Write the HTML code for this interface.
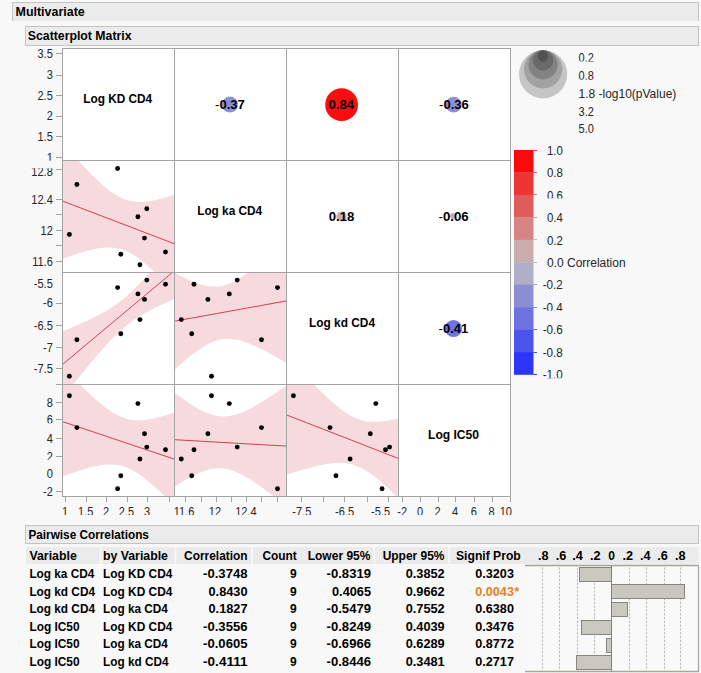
<!DOCTYPE html><html><head><meta charset="utf-8"><style>html,body{margin:0;padding:0;background:#f8f8f8;}svg{display:block;font-family:"Liberation Sans",sans-serif;}</style></head><body>
<svg width="701" height="673" viewBox="0 0 701 673">
<rect x="0" y="0" width="701" height="673" fill="#f8f8f8"/>
<rect x="12.5" y="2.5" width="686" height="18.5" fill="#ebebeb"/>
<polyline points="12.5,21 12.5,2.5 698.5,2.5 698.5,21" fill="none" stroke="#c4c4c4" stroke-width="1"/>
<text x="15.50" y="15.70" font-size="12" font-weight="bold" text-anchor="start" fill="#000000" textLength="69.3" lengthAdjust="spacingAndGlyphs">Multivariate</text>
<rect x="25.5" y="26.5" width="673.0" height="19.0" fill="#ebebeb" stroke="#c4c4c4" stroke-width="1"/>
<text x="27.80" y="40.20" font-size="12" font-weight="bold" text-anchor="start" fill="#000000" textLength="103.7" lengthAdjust="spacingAndGlyphs">Scatterplot Matrix</text>
<rect x="25.5" y="525.5" width="673.0" height="18.0" fill="#ebebeb" stroke="#c4c4c4" stroke-width="1"/>
<text x="28.40" y="538.70" font-size="12" font-weight="bold" text-anchor="start" fill="#000000" textLength="120.5" lengthAdjust="spacingAndGlyphs">Pairwise Correlations</text>
<rect x="62.5" y="48.5" width="448.0" height="448.0" fill="#ffffff"/>
<clipPath id="c01"><rect x="62.5" y="160.5" width="112.0" height="112.0"/></clipPath>
<g clip-path="url(#c01)">
<polygon points="62.5,143.2 64.4,145.3 66.3,147.5 68.2,149.6 70.1,151.7 72.0,153.8 73.9,155.9 75.8,158.0 77.7,160.1 79.6,162.1 81.5,164.1 83.4,166.2 85.3,168.2 87.2,170.1 89.1,172.1 91.0,174.0 92.9,175.9 94.8,177.7 96.7,179.5 98.6,181.3 100.5,183.0 102.4,184.7 104.3,186.4 106.2,187.9 108.1,189.4 110.0,190.9 111.9,192.3 113.8,193.5 115.7,194.8 117.6,195.9 119.4,196.9 121.3,197.8 123.2,198.7 125.1,199.4 127.0,200.0 128.9,200.6 130.8,201.0 132.7,201.4 134.6,201.6 136.5,201.8 138.4,201.9 140.3,201.9 142.2,201.9 144.1,201.7 146.0,201.6 147.9,201.4 149.8,201.1 151.7,200.8 153.6,200.4 155.5,200.0 157.4,199.6 159.3,199.1 161.2,198.6 163.1,198.1 165.0,197.6 166.9,197.0 168.8,196.4 170.7,195.8 172.6,195.2 174.5,194.6 174.5,293.1 172.6,291.0 170.7,288.9 168.8,286.9 166.9,284.8 165.0,282.8 163.1,280.8 161.2,278.9 159.3,276.9 157.4,275.0 155.5,273.1 153.6,271.3 151.7,269.5 149.8,267.7 147.9,266.0 146.0,264.3 144.1,262.7 142.2,261.1 140.3,259.6 138.4,258.2 136.5,256.9 134.6,255.6 132.7,254.4 130.8,253.3 128.9,252.3 127.0,251.4 125.1,250.6 123.2,249.8 121.3,249.2 119.4,248.7 117.6,248.3 115.7,247.9 113.8,247.7 111.9,247.5 110.0,247.5 108.1,247.5 106.2,247.5 104.3,247.6 102.4,247.8 100.5,248.0 98.6,248.3 96.7,248.7 94.8,249.0 92.9,249.4 91.0,249.9 89.1,250.3 87.2,250.8 85.3,251.3 83.4,251.9 81.5,252.4 79.6,253.0 77.7,253.6 75.8,254.2 73.9,254.9 72.0,255.5 70.1,256.2 68.2,256.8 66.3,257.5 64.4,258.2 62.5,258.9" fill="#f6dade"/>
<line x1="62.5" y1="201.0" x2="174.5" y2="243.8" stroke="#d3404f" stroke-width="1"/>
<circle cx="117.6" cy="168.5" r="2.45" fill="#000"/>
<circle cx="76.9" cy="184.5" r="2.45" fill="#000"/>
<circle cx="146.8" cy="208.8" r="2.45" fill="#000"/>
<circle cx="137.9" cy="216.7" r="2.45" fill="#000"/>
<circle cx="69.4" cy="234.5" r="2.45" fill="#000"/>
<circle cx="144.5" cy="238.1" r="2.45" fill="#000"/>
<circle cx="120.8" cy="254.3" r="2.45" fill="#000"/>
<circle cx="165.5" cy="252.0" r="2.45" fill="#000"/>
<circle cx="139.9" cy="264.7" r="2.45" fill="#000"/>
</g>
<clipPath id="c02"><rect x="62.5" y="272.5" width="112.0" height="112.0"/></clipPath>
<g clip-path="url(#c02)">
<polygon points="62.5,331.3 64.4,330.5 66.3,329.7 68.2,329.0 70.1,328.2 72.0,327.4 73.9,326.6 75.8,325.8 77.7,324.9 79.6,324.1 81.5,323.3 83.4,322.4 85.3,321.6 87.2,320.7 89.1,319.8 91.0,318.9 92.9,318.0 94.8,317.0 96.7,316.1 98.6,315.1 100.5,314.1 102.4,313.0 104.3,312.0 106.2,310.9 108.1,309.7 110.0,308.5 111.9,307.3 113.8,306.1 115.7,304.7 117.6,303.4 119.4,302.0 121.3,300.5 123.2,299.0 125.1,297.4 127.0,295.7 128.9,294.0 130.8,292.3 132.7,290.5 134.6,288.6 136.5,286.7 138.4,284.8 140.3,282.8 142.2,280.7 144.1,278.7 146.0,276.6 147.9,274.4 149.8,272.3 151.7,270.1 153.6,267.8 155.5,265.6 157.4,263.4 159.3,261.1 161.2,258.8 163.1,256.5 165.0,254.2 166.9,251.9 168.8,249.5 170.7,247.2 172.6,244.8 174.5,242.4 174.5,299.0 172.6,299.8 170.7,300.7 168.8,301.5 166.9,302.3 165.0,303.2 163.1,304.0 161.2,304.9 159.3,305.8 157.4,306.7 155.5,307.6 153.6,308.6 151.7,309.6 149.8,310.5 147.9,311.6 146.0,312.6 144.1,313.7 142.2,314.8 140.3,315.9 138.4,317.1 136.5,318.4 134.6,319.6 132.7,321.0 130.8,322.3 128.9,323.8 127.0,325.2 125.1,326.8 123.2,328.4 121.3,330.0 119.4,331.7 117.6,333.5 115.7,335.3 113.8,337.2 111.9,339.1 110.0,341.0 108.1,343.0 106.2,345.1 104.3,347.2 102.4,349.3 100.5,351.4 98.6,353.6 96.7,355.8 94.8,358.0 92.9,360.2 91.0,362.5 89.1,364.8 87.2,367.1 85.3,369.4 83.4,371.7 81.5,374.0 79.6,376.4 77.7,378.7 75.8,381.1 73.9,383.4 72.0,385.8 70.1,388.2 68.2,390.6 66.3,393.0 64.4,395.4 62.5,397.8" fill="#f6dade"/>
<line x1="62.5" y1="364.5" x2="174.5" y2="270.7" stroke="#d3404f" stroke-width="1"/>
<circle cx="117.6" cy="287.6" r="2.45" fill="#000"/>
<circle cx="76.9" cy="339.7" r="2.45" fill="#000"/>
<circle cx="146.8" cy="280.1" r="2.45" fill="#000"/>
<circle cx="137.9" cy="293.9" r="2.45" fill="#000"/>
<circle cx="69.4" cy="376.3" r="2.45" fill="#000"/>
<circle cx="144.5" cy="299.4" r="2.45" fill="#000"/>
<circle cx="120.8" cy="333.7" r="2.45" fill="#000"/>
<circle cx="165.5" cy="284.2" r="2.45" fill="#000"/>
<circle cx="139.9" cy="319.6" r="2.45" fill="#000"/>
</g>
<clipPath id="c03"><rect x="62.5" y="384.5" width="112.0" height="112.0"/></clipPath>
<g clip-path="url(#c03)">
<polygon points="62.5,366.6 64.4,368.6 66.3,370.6 68.2,372.5 70.1,374.5 72.0,376.4 73.9,378.4 75.8,380.3 77.7,382.2 79.6,384.1 81.5,386.0 83.4,387.9 85.3,389.7 87.2,391.5 89.1,393.3 91.0,395.1 92.9,396.8 94.8,398.5 96.7,400.2 98.6,401.8 100.5,403.4 102.4,405.0 104.3,406.5 106.2,407.9 108.1,409.3 110.0,410.6 111.9,411.9 113.8,413.0 115.7,414.1 117.6,415.1 119.4,416.1 121.3,416.9 123.2,417.6 125.1,418.3 127.0,418.8 128.9,419.3 130.8,419.7 132.7,419.9 134.6,420.1 136.5,420.3 138.4,420.3 140.3,420.3 142.2,420.2 144.1,420.0 146.0,419.8 147.9,419.5 149.8,419.2 151.7,418.9 153.6,418.5 155.5,418.0 157.4,417.6 159.3,417.1 161.2,416.6 163.1,416.0 165.0,415.5 166.9,414.9 168.8,414.3 170.7,413.7 172.6,413.0 174.5,412.4 174.5,505.9 172.6,504.0 170.7,502.1 168.8,500.2 166.9,498.3 165.0,496.5 163.1,494.6 161.2,492.8 159.3,491.0 157.4,489.3 155.5,487.5 153.6,485.8 151.7,484.2 149.8,482.5 147.9,480.9 146.0,479.4 144.1,477.9 142.2,476.5 140.3,475.1 138.4,473.8 136.5,472.6 134.6,471.4 132.7,470.3 130.8,469.3 128.9,468.4 127.0,467.6 125.1,466.9 123.2,466.3 121.3,465.7 119.4,465.3 117.6,464.9 115.7,464.7 113.8,464.5 111.9,464.4 110.0,464.4 108.1,464.4 106.2,464.5 104.3,464.7 102.4,464.9 100.5,465.2 98.6,465.5 96.7,465.9 94.8,466.3 92.9,466.7 91.0,467.2 89.1,467.7 87.2,468.2 85.3,468.7 83.4,469.3 81.5,469.9 79.6,470.5 77.7,471.1 75.8,471.8 73.9,472.4 72.0,473.1 70.1,473.7 68.2,474.4 66.3,475.1 64.4,475.8 62.5,476.6" fill="#f6dade"/>
<line x1="62.5" y1="421.6" x2="174.5" y2="459.2" stroke="#d3404f" stroke-width="1"/>
<circle cx="117.6" cy="488.7" r="2.45" fill="#000"/>
<circle cx="76.9" cy="427.6" r="2.45" fill="#000"/>
<circle cx="146.8" cy="447.1" r="2.45" fill="#000"/>
<circle cx="137.9" cy="403.6" r="2.45" fill="#000"/>
<circle cx="69.4" cy="395.7" r="2.45" fill="#000"/>
<circle cx="144.5" cy="433.7" r="2.45" fill="#000"/>
<circle cx="120.8" cy="475.8" r="2.45" fill="#000"/>
<circle cx="165.5" cy="449.8" r="2.45" fill="#000"/>
<circle cx="139.9" cy="459.0" r="2.45" fill="#000"/>
</g>
<clipPath id="c12"><rect x="174.5" y="272.5" width="112.0" height="112.0"/></clipPath>
<g clip-path="url(#c12)">
<polygon points="174.5,272.8 176.4,273.8 178.3,274.8 180.2,275.8 182.1,276.7 184.0,277.7 185.9,278.6 187.8,279.4 189.7,280.3 191.6,281.1 193.5,281.9 195.4,282.6 197.3,283.3 199.2,283.9 201.1,284.5 203.0,285.0 204.9,285.5 206.8,285.9 208.7,286.2 210.6,286.4 212.5,286.6 214.4,286.6 216.3,286.6 218.2,286.5 220.1,286.3 222.0,285.9 223.9,285.5 225.8,285.0 227.7,284.3 229.6,283.6 231.4,282.8 233.3,281.9 235.2,280.9 237.1,279.9 239.0,278.8 240.9,277.6 242.8,276.3 244.7,275.0 246.6,273.6 248.5,272.2 250.4,270.8 252.3,269.3 254.2,267.8 256.1,266.2 258.0,264.6 259.9,263.0 261.8,261.4 263.7,259.7 265.6,258.1 267.5,256.4 269.4,254.6 271.3,252.9 273.2,251.2 275.1,249.4 277.0,247.6 278.9,245.9 280.8,244.1 282.7,242.3 284.6,240.4 286.5,238.6 286.5,363.2 284.6,362.0 282.7,360.9 280.8,359.8 278.9,358.7 277.0,357.6 275.1,356.5 273.2,355.4 271.3,354.4 269.4,353.3 267.5,352.3 265.6,351.3 263.7,350.3 261.8,349.4 259.9,348.4 258.0,347.5 256.1,346.6 254.2,345.7 252.3,344.9 250.4,344.1 248.5,343.3 246.6,342.6 244.7,341.9 242.8,341.3 240.9,340.8 239.0,340.3 237.1,339.8 235.2,339.5 233.3,339.2 231.4,339.0 229.6,338.8 227.7,338.8 225.8,338.9 223.9,339.0 222.0,339.3 220.1,339.6 218.2,340.1 216.3,340.7 214.4,341.3 212.5,342.1 210.6,342.9 208.7,343.8 206.8,344.8 204.9,345.9 203.0,347.1 201.1,348.3 199.2,349.6 197.3,350.9 195.4,352.3 193.5,353.7 191.6,355.1 189.7,356.6 187.8,358.2 185.9,359.7 184.0,361.3 182.1,363.0 180.2,364.6 178.3,366.3 176.4,367.9 174.5,369.7" fill="#f6dade"/>
<line x1="174.5" y1="321.2" x2="286.5" y2="300.9" stroke="#d3404f" stroke-width="1"/>
<circle cx="277.5" cy="287.6" r="2.45" fill="#000"/>
<circle cx="261.5" cy="339.7" r="2.45" fill="#000"/>
<circle cx="237.2" cy="280.1" r="2.45" fill="#000"/>
<circle cx="229.3" cy="293.9" r="2.45" fill="#000"/>
<circle cx="211.5" cy="376.3" r="2.45" fill="#000"/>
<circle cx="207.9" cy="299.4" r="2.45" fill="#000"/>
<circle cx="191.7" cy="333.7" r="2.45" fill="#000"/>
<circle cx="194.0" cy="284.2" r="2.45" fill="#000"/>
<circle cx="181.3" cy="319.6" r="2.45" fill="#000"/>
</g>
<clipPath id="c13"><rect x="174.5" y="384.5" width="112.0" height="112.0"/></clipPath>
<g clip-path="url(#c13)">
<polygon points="174.5,392.6 176.4,394.0 178.3,395.4 180.2,396.8 182.1,398.2 184.0,399.6 185.9,400.9 187.8,402.2 189.7,403.4 191.6,404.7 193.5,405.9 195.4,407.0 197.3,408.1 199.2,409.2 201.1,410.2 203.0,411.1 204.9,412.0 206.8,412.9 208.7,413.6 210.6,414.3 212.5,414.9 214.4,415.4 216.3,415.8 218.2,416.1 220.1,416.3 222.0,416.5 223.9,416.5 225.8,416.4 227.7,416.2 229.6,416.0 231.4,415.6 233.3,415.2 235.2,414.7 237.1,414.1 239.0,413.5 240.9,412.8 242.8,412.0 244.7,411.2 246.6,410.3 248.5,409.4 250.4,408.4 252.3,407.4 254.2,406.4 256.1,405.3 258.0,404.2 259.9,403.1 261.8,401.9 263.7,400.8 265.6,399.6 267.5,398.4 269.4,397.1 271.3,395.9 273.2,394.6 275.1,393.4 277.0,392.1 278.9,390.8 280.8,389.5 282.7,388.2 284.6,386.9 286.5,385.6 286.5,506.6 284.6,505.0 282.7,503.5 280.8,502.0 278.9,500.4 277.0,498.9 275.1,497.4 273.2,496.0 271.3,494.5 269.4,493.0 267.5,491.6 265.6,490.2 263.7,488.8 261.8,487.4 259.9,486.0 258.0,484.7 256.1,483.4 254.2,482.1 252.3,480.8 250.4,479.6 248.5,478.4 246.6,477.3 244.7,476.2 242.8,475.1 240.9,474.1 239.0,473.2 237.1,472.3 235.2,471.6 233.3,470.8 231.4,470.2 229.6,469.6 227.7,469.1 225.8,468.8 223.9,468.5 222.0,468.3 220.1,468.2 218.2,468.2 216.3,468.3 214.4,468.5 212.5,468.8 210.6,469.2 208.7,469.6 206.8,470.1 204.9,470.7 203.0,471.4 201.1,472.2 199.2,472.9 197.3,473.8 195.4,474.7 193.5,475.6 191.6,476.6 189.7,477.6 187.8,478.7 185.9,479.7 184.0,480.8 182.1,482.0 180.2,483.1 178.3,484.3 176.4,485.5 174.5,486.7" fill="#f6dade"/>
<line x1="174.5" y1="439.7" x2="286.5" y2="446.1" stroke="#d3404f" stroke-width="1"/>
<circle cx="277.5" cy="488.7" r="2.45" fill="#000"/>
<circle cx="261.5" cy="427.6" r="2.45" fill="#000"/>
<circle cx="237.2" cy="447.1" r="2.45" fill="#000"/>
<circle cx="229.3" cy="403.6" r="2.45" fill="#000"/>
<circle cx="211.5" cy="395.7" r="2.45" fill="#000"/>
<circle cx="207.9" cy="433.7" r="2.45" fill="#000"/>
<circle cx="191.7" cy="475.8" r="2.45" fill="#000"/>
<circle cx="194.0" cy="449.8" r="2.45" fill="#000"/>
<circle cx="181.3" cy="459.0" r="2.45" fill="#000"/>
</g>
<clipPath id="c23"><rect x="286.5" y="384.5" width="112.0" height="112.0"/></clipPath>
<g clip-path="url(#c23)">
<polygon points="286.5,354.9 288.4,357.0 290.3,359.1 292.2,361.2 294.1,363.3 296.0,365.4 297.9,367.4 299.8,369.5 301.7,371.5 303.6,373.6 305.5,375.6 307.4,377.6 309.3,379.6 311.2,381.6 313.1,383.5 315.0,385.5 316.9,387.4 318.8,389.3 320.7,391.2 322.6,393.1 324.5,394.9 326.4,396.7 328.3,398.5 330.2,400.3 332.1,402.0 334.0,403.6 335.9,405.2 337.8,406.8 339.7,408.3 341.6,409.7 343.4,411.1 345.3,412.4 347.2,413.6 349.1,414.8 351.0,415.9 352.9,416.8 354.8,417.7 356.7,418.5 358.6,419.2 360.5,419.9 362.4,420.4 364.3,420.8 366.2,421.2 368.1,421.4 370.0,421.6 371.9,421.7 373.8,421.8 375.7,421.8 377.6,421.7 379.5,421.6 381.4,421.4 383.3,421.2 385.2,421.0 387.1,420.7 389.0,420.4 390.9,420.0 392.8,419.6 394.7,419.2 396.6,418.8 398.5,418.4 398.5,498.7 396.6,496.8 394.7,494.8 392.8,493.0 390.9,491.1 389.0,489.3 387.1,487.5 385.2,485.7 383.3,484.0 381.4,482.3 379.5,480.6 377.6,479.0 375.7,477.5 373.8,476.0 371.9,474.6 370.0,473.2 368.1,471.9 366.2,470.7 364.3,469.6 362.4,468.5 360.5,467.6 358.6,466.7 356.7,465.9 354.8,465.3 352.9,464.7 351.0,464.2 349.1,463.8 347.2,463.4 345.3,463.2 343.4,463.0 341.6,462.9 339.7,462.9 337.8,462.9 335.9,463.0 334.0,463.1 332.1,463.3 330.2,463.5 328.3,463.8 326.4,464.1 324.5,464.4 322.6,464.7 320.7,465.1 318.8,465.5 316.9,466.0 315.0,466.4 313.1,466.9 311.2,467.4 309.3,467.9 307.4,468.4 305.5,468.9 303.6,469.5 301.7,470.0 299.8,470.6 297.9,471.2 296.0,471.7 294.1,472.3 292.2,472.9 290.3,473.5 288.4,474.2 286.5,474.8" fill="#f6dade"/>
<line x1="286.5" y1="414.9" x2="398.5" y2="458.5" stroke="#d3404f" stroke-width="1"/>
<circle cx="382.1" cy="488.7" r="2.45" fill="#000"/>
<circle cx="330.0" cy="427.6" r="2.45" fill="#000"/>
<circle cx="389.6" cy="447.1" r="2.45" fill="#000"/>
<circle cx="375.8" cy="403.6" r="2.45" fill="#000"/>
<circle cx="293.4" cy="395.7" r="2.45" fill="#000"/>
<circle cx="370.3" cy="433.7" r="2.45" fill="#000"/>
<circle cx="336.0" cy="475.8" r="2.45" fill="#000"/>
<circle cx="385.5" cy="449.8" r="2.45" fill="#000"/>
<circle cx="350.1" cy="459.0" r="2.45" fill="#000"/>
</g>
<line x1="62.5" y1="48.0" x2="62.5" y2="497.0" stroke="#a3a3a3" stroke-width="1"/>
<line x1="174.5" y1="48.0" x2="174.5" y2="497.0" stroke="#a3a3a3" stroke-width="1"/>
<line x1="286.5" y1="48.0" x2="286.5" y2="497.0" stroke="#a3a3a3" stroke-width="1"/>
<line x1="398.5" y1="48.0" x2="398.5" y2="497.0" stroke="#a3a3a3" stroke-width="1"/>
<line x1="510.5" y1="48.0" x2="510.5" y2="497.0" stroke="#a3a3a3" stroke-width="1"/>
<line x1="62.0" y1="48.5" x2="511.0" y2="48.5" stroke="#a3a3a3" stroke-width="1"/>
<line x1="62.0" y1="160.5" x2="511.0" y2="160.5" stroke="#a3a3a3" stroke-width="1"/>
<line x1="62.0" y1="272.5" x2="511.0" y2="272.5" stroke="#a3a3a3" stroke-width="1"/>
<line x1="62.0" y1="384.5" x2="511.0" y2="384.5" stroke="#a3a3a3" stroke-width="1"/>
<line x1="62.0" y1="496.5" x2="511.0" y2="496.5" stroke="#a3a3a3" stroke-width="1"/>
<text x="117.70" y="103.20" font-size="12" font-weight="bold" text-anchor="middle" fill="#000000" textLength="69.0" lengthAdjust="spacingAndGlyphs">Log KD CD4</text>
<text x="229.70" y="215.20" font-size="12" font-weight="bold" text-anchor="middle" fill="#000000" textLength="65.0" lengthAdjust="spacingAndGlyphs">Log ka CD4</text>
<text x="342.00" y="327.20" font-size="12" font-weight="bold" text-anchor="middle" fill="#000000" textLength="66.0" lengthAdjust="spacingAndGlyphs">Log kd CD4</text>
<text x="453.50" y="439.20" font-size="12" font-weight="bold" text-anchor="middle" fill="#000000" textLength="51.0" lengthAdjust="spacingAndGlyphs">Log IC50</text>
<circle cx="229.9" cy="104.6" r="8.0" fill="#8d8fd5"/>
<text x="230.00" y="109.00" font-size="12.5" font-weight="bold" text-anchor="middle" fill="#000000" textLength="29.8" lengthAdjust="spacingAndGlyphs"><tspan font-weight="normal">-</tspan>0.37</text>
<circle cx="341.6" cy="104.7" r="16.4" fill="#fb0d0d"/>
<text x="341.40" y="109.00" font-size="12.5" font-weight="bold" text-anchor="middle" fill="#000000" textLength="25.6" lengthAdjust="spacingAndGlyphs">0.84</text>
<circle cx="453.7" cy="104.6" r="7.9" fill="#8d8fd5"/>
<text x="454.00" y="109.00" font-size="12.5" font-weight="bold" text-anchor="middle" fill="#000000" textLength="29.8" lengthAdjust="spacingAndGlyphs"><tspan font-weight="normal">-</tspan>0.36</text>
<circle cx="341.5" cy="216.5" r="5.1" fill="#c9adae"/>
<text x="341.50" y="221.00" font-size="12.5" font-weight="bold" text-anchor="middle" fill="#000000" textLength="25.6" lengthAdjust="spacingAndGlyphs">0.18</text>
<circle cx="453.1" cy="215.9" r="3.0" fill="#b2b2ca"/>
<text x="453.60" y="221.00" font-size="12.5" font-weight="bold" text-anchor="middle" fill="#000000" textLength="30.2" lengthAdjust="spacingAndGlyphs"><tspan font-weight="normal">-</tspan>0.06</text>
<circle cx="453.5" cy="328.5" r="8.6" fill="#6f74e0"/>
<text x="453.40" y="333.00" font-size="12.5" font-weight="bold" text-anchor="middle" fill="#000000" textLength="29.6" lengthAdjust="spacingAndGlyphs"><tspan font-weight="normal">-</tspan>0.41</text>
<line x1="56" y1="53.5" x2="62" y2="53.5" stroke="#a3a3a3" stroke-width="1"/>
<line x1="56" y1="75.5" x2="62" y2="75.5" stroke="#a3a3a3" stroke-width="1"/>
<line x1="56" y1="95.5" x2="62" y2="95.5" stroke="#a3a3a3" stroke-width="1"/>
<line x1="56" y1="116.5" x2="62" y2="116.5" stroke="#a3a3a3" stroke-width="1"/>
<line x1="56" y1="136.5" x2="62" y2="136.5" stroke="#a3a3a3" stroke-width="1"/>
<line x1="56" y1="157.5" x2="62" y2="157.5" stroke="#a3a3a3" stroke-width="1"/>
<line x1="56" y1="169.5" x2="62" y2="169.5" stroke="#a3a3a3" stroke-width="1"/>
<line x1="56" y1="199.5" x2="62" y2="199.5" stroke="#a3a3a3" stroke-width="1"/>
<line x1="56" y1="214.5" x2="62" y2="214.5" stroke="#a3a3a3" stroke-width="1"/>
<line x1="56" y1="230.5" x2="62" y2="230.5" stroke="#a3a3a3" stroke-width="1"/>
<line x1="56" y1="245.5" x2="62" y2="245.5" stroke="#a3a3a3" stroke-width="1"/>
<line x1="56" y1="261.5" x2="62" y2="261.5" stroke="#a3a3a3" stroke-width="1"/>
<line x1="56" y1="303.5" x2="62" y2="303.5" stroke="#a3a3a3" stroke-width="1"/>
<line x1="56" y1="325.5" x2="62" y2="325.5" stroke="#a3a3a3" stroke-width="1"/>
<line x1="56" y1="347.5" x2="62" y2="347.5" stroke="#a3a3a3" stroke-width="1"/>
<line x1="56" y1="368.5" x2="62" y2="368.5" stroke="#a3a3a3" stroke-width="1"/>
<line x1="56" y1="384.5" x2="62" y2="384.5" stroke="#a3a3a3" stroke-width="1"/>
<line x1="56" y1="402.5" x2="62" y2="402.5" stroke="#a3a3a3" stroke-width="1"/>
<line x1="56" y1="419.5" x2="62" y2="419.5" stroke="#a3a3a3" stroke-width="1"/>
<line x1="56" y1="438.5" x2="62" y2="438.5" stroke="#a3a3a3" stroke-width="1"/>
<line x1="56" y1="456.5" x2="62" y2="456.5" stroke="#a3a3a3" stroke-width="1"/>
<line x1="56" y1="491.5" x2="62" y2="491.5" stroke="#a3a3a3" stroke-width="1"/>
<text transform="translate(52.80,57.90) scale(0.920,1)" font-size="12" font-weight="normal" text-anchor="end" fill="#262626">3.5</text>
<text transform="translate(52.80,79.40) scale(0.920,1)" font-size="12" font-weight="normal" text-anchor="end" fill="#262626">3</text>
<text transform="translate(52.80,99.90) scale(0.920,1)" font-size="12" font-weight="normal" text-anchor="end" fill="#262626">2.5</text>
<text transform="translate(52.80,120.40) scale(0.920,1)" font-size="12" font-weight="normal" text-anchor="end" fill="#262626">2</text>
<text transform="translate(52.80,140.90) scale(0.920,1)" font-size="12" font-weight="normal" text-anchor="end" fill="#262626">1.5</text>
<clipPath id="k1"><rect x="0" y="140.00" width="701" height="20.70"/></clipPath>
<g clip-path="url(#k1)"><text transform="translate(52.80,162.00) scale(0.920,1)" font-size="12" font-weight="normal" text-anchor="end" fill="#262626">1</text></g>
<clipPath id="k2"><rect x="0" y="168.20" width="701" height="21.80"/></clipPath>
<g clip-path="url(#k2)"><text transform="translate(52.80,176.00) scale(0.920,1)" font-size="12" font-weight="normal" text-anchor="end" fill="#262626">12.8</text></g>
<text transform="translate(52.80,204.00) scale(0.920,1)" font-size="12" font-weight="normal" text-anchor="end" fill="#262626">12.4</text>
<text transform="translate(52.80,234.70) scale(0.920,1)" font-size="12" font-weight="normal" text-anchor="end" fill="#262626">12</text>
<text transform="translate(52.80,265.60) scale(0.920,1)" font-size="12" font-weight="normal" text-anchor="end" fill="#262626">11.6</text>
<text transform="translate(52.80,287.80) scale(0.920,1)" font-size="12" font-weight="normal" text-anchor="end" fill="#262626">-5.5</text>
<text transform="translate(52.80,307.40) scale(0.920,1)" font-size="12" font-weight="normal" text-anchor="end" fill="#262626">-6</text>
<text transform="translate(52.80,329.60) scale(0.920,1)" font-size="12" font-weight="normal" text-anchor="end" fill="#262626">-6.5</text>
<text transform="translate(52.80,351.60) scale(0.920,1)" font-size="12" font-weight="normal" text-anchor="end" fill="#262626">-7</text>
<text transform="translate(52.80,372.60) scale(0.920,1)" font-size="12" font-weight="normal" text-anchor="end" fill="#262626">-7.5</text>
<text transform="translate(52.80,406.60) scale(0.920,1)" font-size="12" font-weight="normal" text-anchor="end" fill="#262626">8</text>
<clipPath id="k3"><rect x="0" y="400.00" width="701" height="23.20"/></clipPath>
<g clip-path="url(#k3)"><text transform="translate(52.80,424.00) scale(0.920,1)" font-size="12" font-weight="normal" text-anchor="end" fill="#262626">6</text></g>
<text transform="translate(52.80,442.80) scale(0.920,1)" font-size="12" font-weight="normal" text-anchor="end" fill="#262626">4</text>
<clipPath id="k4"><rect x="0" y="440.00" width="701" height="19.80"/></clipPath>
<g clip-path="url(#k4)"><text transform="translate(52.80,460.80) scale(0.920,1)" font-size="12" font-weight="normal" text-anchor="end" fill="#262626">2</text></g>
<text transform="translate(52.80,477.80) scale(0.920,1)" font-size="12" font-weight="normal" text-anchor="end" fill="#262626">0</text>
<text transform="translate(52.80,495.90) scale(0.920,1)" font-size="12" font-weight="normal" text-anchor="end" fill="#262626">-2</text>
<line x1="65.5" y1="497" x2="65.5" y2="502" stroke="#a3a3a3" stroke-width="1"/>
<line x1="86.5" y1="497" x2="86.5" y2="502" stroke="#a3a3a3" stroke-width="1"/>
<line x1="106.5" y1="497" x2="106.5" y2="502" stroke="#a3a3a3" stroke-width="1"/>
<line x1="127.5" y1="497" x2="127.5" y2="502" stroke="#a3a3a3" stroke-width="1"/>
<line x1="147.5" y1="497" x2="147.5" y2="502" stroke="#a3a3a3" stroke-width="1"/>
<line x1="169.5" y1="497" x2="169.5" y2="502" stroke="#a3a3a3" stroke-width="1"/>
<line x1="185.5" y1="497" x2="185.5" y2="502" stroke="#a3a3a3" stroke-width="1"/>
<line x1="201.5" y1="497" x2="201.5" y2="502" stroke="#a3a3a3" stroke-width="1"/>
<line x1="216.5" y1="497" x2="216.5" y2="502" stroke="#a3a3a3" stroke-width="1"/>
<line x1="231.5" y1="497" x2="231.5" y2="502" stroke="#a3a3a3" stroke-width="1"/>
<line x1="246.5" y1="497" x2="246.5" y2="502" stroke="#a3a3a3" stroke-width="1"/>
<line x1="261.5" y1="497" x2="261.5" y2="502" stroke="#a3a3a3" stroke-width="1"/>
<line x1="277.5" y1="497" x2="277.5" y2="502" stroke="#a3a3a3" stroke-width="1"/>
<line x1="301.5" y1="497" x2="301.5" y2="502" stroke="#a3a3a3" stroke-width="1"/>
<line x1="323.5" y1="497" x2="323.5" y2="502" stroke="#a3a3a3" stroke-width="1"/>
<line x1="344.5" y1="497" x2="344.5" y2="502" stroke="#a3a3a3" stroke-width="1"/>
<line x1="367.5" y1="497" x2="367.5" y2="502" stroke="#a3a3a3" stroke-width="1"/>
<line x1="388.5" y1="497" x2="388.5" y2="502" stroke="#a3a3a3" stroke-width="1"/>
<line x1="402.5" y1="497" x2="402.5" y2="502" stroke="#a3a3a3" stroke-width="1"/>
<line x1="420.5" y1="497" x2="420.5" y2="502" stroke="#a3a3a3" stroke-width="1"/>
<line x1="438.5" y1="497" x2="438.5" y2="502" stroke="#a3a3a3" stroke-width="1"/>
<line x1="455.5" y1="497" x2="455.5" y2="502" stroke="#a3a3a3" stroke-width="1"/>
<line x1="474.5" y1="497" x2="474.5" y2="502" stroke="#a3a3a3" stroke-width="1"/>
<line x1="492.5" y1="497" x2="492.5" y2="502" stroke="#a3a3a3" stroke-width="1"/>
<line x1="510.5" y1="497" x2="510.5" y2="502" stroke="#a3a3a3" stroke-width="1"/>
<clipPath id="k5"><rect x="0" y="500.00" width="701" height="14.90"/></clipPath>
<g clip-path="url(#k5)"><text transform="translate(65.00,516.40) scale(0.920,1)" font-size="12" font-weight="normal" text-anchor="middle" fill="#262626">1</text></g>
<clipPath id="k6"><rect x="0" y="500.00" width="701" height="14.90"/></clipPath>
<g clip-path="url(#k6)"><text transform="translate(85.60,516.40) scale(0.920,1)" font-size="12" font-weight="normal" text-anchor="middle" fill="#262626">1.5</text></g>
<clipPath id="k7"><rect x="0" y="500.00" width="701" height="14.90"/></clipPath>
<g clip-path="url(#k7)"><text transform="translate(106.00,516.40) scale(0.920,1)" font-size="12" font-weight="normal" text-anchor="middle" fill="#262626">2</text></g>
<clipPath id="k8"><rect x="0" y="500.00" width="701" height="14.90"/></clipPath>
<g clip-path="url(#k8)"><text transform="translate(126.40,516.40) scale(0.920,1)" font-size="12" font-weight="normal" text-anchor="middle" fill="#262626">2.5</text></g>
<clipPath id="k9"><rect x="0" y="500.00" width="701" height="14.90"/></clipPath>
<g clip-path="url(#k9)"><text transform="translate(147.00,516.40) scale(0.920,1)" font-size="12" font-weight="normal" text-anchor="middle" fill="#262626">3</text></g>
<clipPath id="k10"><rect x="0" y="500.00" width="701" height="14.90"/></clipPath>
<g clip-path="url(#k10)"><text transform="translate(184.00,516.40) scale(0.920,1)" font-size="12" font-weight="normal" text-anchor="middle" fill="#262626">11.6</text></g>
<clipPath id="k11"><rect x="0" y="500.00" width="701" height="14.90"/></clipPath>
<g clip-path="url(#k11)"><text transform="translate(215.00,516.40) scale(0.920,1)" font-size="12" font-weight="normal" text-anchor="middle" fill="#262626">12</text></g>
<clipPath id="k12"><rect x="0" y="500.00" width="701" height="14.90"/></clipPath>
<g clip-path="url(#k12)"><text transform="translate(245.90,516.40) scale(0.920,1)" font-size="12" font-weight="normal" text-anchor="middle" fill="#262626">12.4</text></g>
<clipPath id="k13"><rect x="0" y="500.00" width="701" height="14.90"/></clipPath>
<g clip-path="url(#k13)"><text transform="translate(301.80,516.40) scale(0.920,1)" font-size="12" font-weight="normal" text-anchor="middle" fill="#262626">-7.5</text></g>
<clipPath id="k14"><rect x="0" y="500.00" width="701" height="14.90"/></clipPath>
<g clip-path="url(#k14)"><text transform="translate(344.60,516.40) scale(0.920,1)" font-size="12" font-weight="normal" text-anchor="middle" fill="#262626">-6.5</text></g>
<clipPath id="k15"><rect x="0" y="500.00" width="701" height="14.90"/></clipPath>
<g clip-path="url(#k15)"><text transform="translate(380.60,516.40) scale(0.920,1)" font-size="12" font-weight="normal" text-anchor="middle" fill="#262626">-5.5</text></g>
<clipPath id="k16"><rect x="0" y="500.00" width="701" height="14.90"/></clipPath>
<g clip-path="url(#k16)"><text transform="translate(402.20,516.40) scale(0.920,1)" font-size="12" font-weight="normal" text-anchor="middle" fill="#262626">-2</text></g>
<clipPath id="k17"><rect x="0" y="500.00" width="701" height="14.90"/></clipPath>
<g clip-path="url(#k17)"><text transform="translate(420.00,516.40) scale(0.920,1)" font-size="12" font-weight="normal" text-anchor="middle" fill="#262626">0</text></g>
<clipPath id="k18"><rect x="0" y="500.00" width="701" height="14.90"/></clipPath>
<g clip-path="url(#k18)"><text transform="translate(437.50,516.40) scale(0.920,1)" font-size="12" font-weight="normal" text-anchor="middle" fill="#262626">2</text></g>
<clipPath id="k19"><rect x="0" y="500.00" width="701" height="14.90"/></clipPath>
<g clip-path="url(#k19)"><text transform="translate(455.00,516.40) scale(0.920,1)" font-size="12" font-weight="normal" text-anchor="middle" fill="#262626">4</text></g>
<clipPath id="k20"><rect x="0" y="500.00" width="701" height="14.90"/></clipPath>
<g clip-path="url(#k20)"><text transform="translate(473.80,516.40) scale(0.920,1)" font-size="12" font-weight="normal" text-anchor="middle" fill="#262626">6</text></g>
<clipPath id="k21"><rect x="0" y="500.00" width="701" height="14.90"/></clipPath>
<g clip-path="url(#k21)"><text transform="translate(491.60,516.40) scale(0.920,1)" font-size="12" font-weight="normal" text-anchor="middle" fill="#262626">8</text></g>
<clipPath id="k22"><rect x="0" y="500.00" width="701" height="14.90"/></clipPath>
<g clip-path="url(#k22)"><text transform="translate(512.00,516.40) scale(0.920,1)" font-size="12" font-weight="normal" text-anchor="end" fill="#262626">10</text></g>
<circle cx="543.1" cy="74.3" r="24.1" fill="#c5c5c5"/>
<circle cx="543.1" cy="69.3" r="19.1" fill="#a2a2a2"/>
<circle cx="543.1" cy="64.8" r="14.6" fill="#828282"/>
<circle cx="543.1" cy="60.4" r="10.2" fill="#696969"/>
<ellipse cx="543.0" cy="56.0" rx="5.1" ry="5.8" fill="#525252"/>
<clipPath id="k23"><rect x="0" y="40.00" width="701" height="21.50"/></clipPath>
<g clip-path="url(#k23)"><text transform="translate(578.50,62.20) scale(0.920,1)" font-size="12" font-weight="normal" text-anchor="start" fill="#262626">0.2</text></g>
<clipPath id="k24"><rect x="0" y="60.00" width="701" height="19.70"/></clipPath>
<g clip-path="url(#k24)"><text transform="translate(578.50,80.20) scale(0.920,1)" font-size="12" font-weight="normal" text-anchor="start" fill="#262626">0.8</text></g>
<text x="578.50" y="98.00" font-size="12" font-weight="normal" text-anchor="start" fill="#262626" textLength="97.8" lengthAdjust="spacingAndGlyphs">1.8 -log10(pValue)</text>
<text transform="translate(578.50,115.50) scale(0.920,1)" font-size="12" font-weight="normal" text-anchor="start" fill="#262626">3.2</text>
<text transform="translate(578.50,132.90) scale(0.920,1)" font-size="12" font-weight="normal" text-anchor="start" fill="#262626">5.0</text>
<rect x="514" y="150.00" width="19.5" height="22.75" fill="#fa0a0a"/>
<rect x="514" y="172.45" width="19.5" height="22.75" fill="#ee3434"/>
<rect x="514" y="194.90" width="19.5" height="22.75" fill="#e05c5c"/>
<rect x="514" y="217.35" width="19.5" height="22.75" fill="#d68484"/>
<rect x="514" y="239.80" width="19.5" height="22.75" fill="#c9acac"/>
<rect x="514" y="262.25" width="19.5" height="22.75" fill="#aeaec8"/>
<rect x="514" y="284.70" width="19.5" height="22.75" fill="#8c8ed4"/>
<rect x="514" y="307.15" width="19.5" height="22.75" fill="#6c72e0"/>
<rect x="514" y="329.60" width="19.5" height="22.75" fill="#4c54ee"/>
<rect x="514" y="352.05" width="19.5" height="22.75" fill="#2c36fa"/>
<line x1="533.5" y1="150.5" x2="537" y2="150.5" stroke="#fa3030" stroke-width="1"/>
<text transform="translate(547.00,154.70) scale(0.955,1)" font-size="12" font-weight="normal" text-anchor="start" fill="#262626">1.0</text>
<line x1="533.5" y1="172.5" x2="537" y2="172.5" stroke="#ee5050" stroke-width="1"/>
<text transform="translate(547.00,177.15) scale(0.955,1)" font-size="12" font-weight="normal" text-anchor="start" fill="#262626">0.8</text>
<line x1="533.5" y1="194.5" x2="537" y2="194.5" stroke="#e07070" stroke-width="1"/>
<clipPath id="k25"><rect x="0" y="187.60" width="701" height="11.00"/></clipPath>
<g clip-path="url(#k25)"><text transform="translate(547.00,199.60) scale(0.955,1)" font-size="12" font-weight="normal" text-anchor="start" fill="#262626">0.6</text></g>
<line x1="533.5" y1="217.5" x2="537" y2="217.5" stroke="#d69090" stroke-width="1"/>
<text transform="translate(547.00,222.05) scale(0.955,1)" font-size="12" font-weight="normal" text-anchor="start" fill="#262626">0.4</text>
<line x1="533.5" y1="239.5" x2="537" y2="239.5" stroke="#d0b8b8" stroke-width="1"/>
<text transform="translate(547.00,244.50) scale(0.955,1)" font-size="12" font-weight="normal" text-anchor="start" fill="#262626">0.2</text>
<line x1="533.5" y1="262.5" x2="537" y2="262.5" stroke="#b8b8b8" stroke-width="1"/>
<text x="547.00" y="266.95" font-size="12" font-weight="normal" text-anchor="start" fill="#262626" textLength="78.6" lengthAdjust="spacingAndGlyphs">0.0 Correlation</text>
<line x1="533.5" y1="284.5" x2="537" y2="284.5" stroke="#a0a0d8" stroke-width="1"/>
<text transform="translate(542.70,289.40) scale(0.975,1)" font-size="12" font-weight="normal" text-anchor="start" fill="#262626">-0.2</text>
<line x1="533.5" y1="307.5" x2="537" y2="307.5" stroke="#8088e0" stroke-width="1"/>
<clipPath id="k26"><rect x="0" y="299.85" width="701" height="11.00"/></clipPath>
<g clip-path="url(#k26)"><text transform="translate(542.70,311.85) scale(0.975,1)" font-size="12" font-weight="normal" text-anchor="start" fill="#262626">-0.4</text></g>
<line x1="533.5" y1="329.5" x2="537" y2="329.5" stroke="#6068ee" stroke-width="1"/>
<text transform="translate(542.70,334.30) scale(0.975,1)" font-size="12" font-weight="normal" text-anchor="start" fill="#262626">-0.6</text>
<line x1="533.5" y1="352.5" x2="537" y2="352.5" stroke="#4048fa" stroke-width="1"/>
<text transform="translate(542.70,356.75) scale(0.975,1)" font-size="12" font-weight="normal" text-anchor="start" fill="#262626">-0.8</text>
<line x1="533.5" y1="374.5" x2="537" y2="374.5" stroke="#3038fa" stroke-width="1"/>
<clipPath id="k27"><rect x="0" y="367.20" width="701" height="11.00"/></clipPath>
<g clip-path="url(#k27)"><text transform="translate(542.70,379.20) scale(0.975,1)" font-size="12" font-weight="normal" text-anchor="start" fill="#262626">-1.0</text></g>
<rect x="26" y="547" width="672.5" height="17" fill="#ebebeb"/>
<rect x="99.9" y="547" width="1.7" height="17" fill="#f8f8f8"/>
<rect x="174.7" y="547" width="1.7" height="17" fill="#f8f8f8"/>
<rect x="251.0" y="547" width="1.7" height="17" fill="#f8f8f8"/>
<rect x="373.6" y="547" width="1.7" height="17" fill="#f8f8f8"/>
<rect x="448.3" y="547" width="1.7" height="17" fill="#f8f8f8"/>
<text x="29.40" y="560.20" font-size="12" font-weight="bold" text-anchor="start" fill="#000000" textLength="47.4" lengthAdjust="spacingAndGlyphs">Variable</text>
<text x="103.00" y="560.20" font-size="12" font-weight="bold" text-anchor="start" fill="#000000" textLength="64.9" lengthAdjust="spacingAndGlyphs">by Variable</text>
<text x="247.60" y="560.20" font-size="12" font-weight="bold" text-anchor="end" fill="#000000" textLength="63.5" lengthAdjust="spacingAndGlyphs">Correlation</text>
<text x="296.80" y="560.20" font-size="12" font-weight="bold" text-anchor="end" fill="#000000" textLength="34.4" lengthAdjust="spacingAndGlyphs">Count</text>
<text x="370.50" y="560.20" font-size="12" font-weight="bold" text-anchor="end" fill="#000000" textLength="62.8" lengthAdjust="spacingAndGlyphs">Lower 95%</text>
<text x="444.50" y="560.20" font-size="12" font-weight="bold" text-anchor="end" fill="#000000" textLength="61.8" lengthAdjust="spacingAndGlyphs">Upper 95%</text>
<text x="520.80" y="560.20" font-size="12" font-weight="bold" text-anchor="end" fill="#000000" textLength="64.8" lengthAdjust="spacingAndGlyphs">Signif Prob</text>
<text x="29.40" y="577.90" font-size="12" font-weight="bold" text-anchor="start" fill="#000000" textLength="64.9" lengthAdjust="spacingAndGlyphs">Log ka CD4</text>
<text x="103.00" y="577.90" font-size="12" font-weight="bold" text-anchor="start" fill="#000000" textLength="69.4" lengthAdjust="spacingAndGlyphs">Log KD CD4</text>
<text x="247.50" y="577.90" font-size="12" font-weight="bold" text-anchor="end" fill="#000000" textLength="44.4" lengthAdjust="spacingAndGlyphs">-0.3748</text>
<text x="296.80" y="577.90" font-size="12" font-weight="bold" text-anchor="end" fill="#000000">9</text>
<text x="371.00" y="577.90" font-size="12" font-weight="bold" text-anchor="end" fill="#000000" textLength="44.4" lengthAdjust="spacingAndGlyphs">-0.8319</text>
<text x="444.70" y="577.90" font-size="12" font-weight="bold" text-anchor="end" fill="#000000" textLength="39.0" lengthAdjust="spacingAndGlyphs">0.3852</text>
<text x="513.90" y="577.90" font-size="12" font-weight="bold" text-anchor="end" fill="#000000" textLength="38.6" lengthAdjust="spacingAndGlyphs">0.3203</text>
<text x="29.40" y="595.50" font-size="12" font-weight="bold" text-anchor="start" fill="#000000" textLength="65.6" lengthAdjust="spacingAndGlyphs">Log kd CD4</text>
<text x="103.00" y="595.50" font-size="12" font-weight="bold" text-anchor="start" fill="#000000" textLength="69.4" lengthAdjust="spacingAndGlyphs">Log KD CD4</text>
<text x="247.50" y="595.50" font-size="12" font-weight="bold" text-anchor="end" fill="#000000" textLength="39.0" lengthAdjust="spacingAndGlyphs">0.8430</text>
<text x="296.80" y="595.50" font-size="12" font-weight="bold" text-anchor="end" fill="#000000">9</text>
<text x="371.00" y="595.50" font-size="12" font-weight="bold" text-anchor="end" fill="#000000" textLength="39.0" lengthAdjust="spacingAndGlyphs">0.4065</text>
<text x="444.70" y="595.50" font-size="12" font-weight="bold" text-anchor="end" fill="#000000" textLength="39.0" lengthAdjust="spacingAndGlyphs">0.9662</text>
<text x="513.90" y="595.50" font-size="12" font-weight="bold" text-anchor="end" fill="#e8801e" textLength="38.6" lengthAdjust="spacingAndGlyphs">0.0043</text>
<text x="514.60" y="596.00" font-size="12" font-weight="bold" text-anchor="start" fill="#e8801e">*</text>
<text x="29.40" y="613.10" font-size="12" font-weight="bold" text-anchor="start" fill="#000000" textLength="65.6" lengthAdjust="spacingAndGlyphs">Log kd CD4</text>
<text x="103.00" y="613.10" font-size="12" font-weight="bold" text-anchor="start" fill="#000000" textLength="64.9" lengthAdjust="spacingAndGlyphs">Log ka CD4</text>
<text x="247.50" y="613.10" font-size="12" font-weight="bold" text-anchor="end" fill="#000000" textLength="39.0" lengthAdjust="spacingAndGlyphs">0.1827</text>
<text x="296.80" y="613.10" font-size="12" font-weight="bold" text-anchor="end" fill="#000000">9</text>
<text x="371.00" y="613.10" font-size="12" font-weight="bold" text-anchor="end" fill="#000000" textLength="44.4" lengthAdjust="spacingAndGlyphs">-0.5479</text>
<text x="444.70" y="613.10" font-size="12" font-weight="bold" text-anchor="end" fill="#000000" textLength="39.0" lengthAdjust="spacingAndGlyphs">0.7552</text>
<text x="513.90" y="613.10" font-size="12" font-weight="bold" text-anchor="end" fill="#000000" textLength="38.6" lengthAdjust="spacingAndGlyphs">0.6380</text>
<text x="29.40" y="630.70" font-size="12" font-weight="bold" text-anchor="start" fill="#000000" textLength="50.2" lengthAdjust="spacingAndGlyphs">Log IC50</text>
<text x="103.00" y="630.70" font-size="12" font-weight="bold" text-anchor="start" fill="#000000" textLength="69.4" lengthAdjust="spacingAndGlyphs">Log KD CD4</text>
<text x="247.50" y="630.70" font-size="12" font-weight="bold" text-anchor="end" fill="#000000" textLength="44.4" lengthAdjust="spacingAndGlyphs">-0.3556</text>
<text x="296.80" y="630.70" font-size="12" font-weight="bold" text-anchor="end" fill="#000000">9</text>
<text x="371.00" y="630.70" font-size="12" font-weight="bold" text-anchor="end" fill="#000000" textLength="44.4" lengthAdjust="spacingAndGlyphs">-0.8249</text>
<text x="444.70" y="630.70" font-size="12" font-weight="bold" text-anchor="end" fill="#000000" textLength="39.0" lengthAdjust="spacingAndGlyphs">0.4039</text>
<text x="513.90" y="630.70" font-size="12" font-weight="bold" text-anchor="end" fill="#000000" textLength="38.6" lengthAdjust="spacingAndGlyphs">0.3476</text>
<text x="29.40" y="648.30" font-size="12" font-weight="bold" text-anchor="start" fill="#000000" textLength="50.2" lengthAdjust="spacingAndGlyphs">Log IC50</text>
<text x="103.00" y="648.30" font-size="12" font-weight="bold" text-anchor="start" fill="#000000" textLength="64.9" lengthAdjust="spacingAndGlyphs">Log ka CD4</text>
<text x="247.50" y="648.30" font-size="12" font-weight="bold" text-anchor="end" fill="#000000" textLength="44.4" lengthAdjust="spacingAndGlyphs">-0.0605</text>
<text x="296.80" y="648.30" font-size="12" font-weight="bold" text-anchor="end" fill="#000000">9</text>
<text x="371.00" y="648.30" font-size="12" font-weight="bold" text-anchor="end" fill="#000000" textLength="44.4" lengthAdjust="spacingAndGlyphs">-0.6966</text>
<text x="444.70" y="648.30" font-size="12" font-weight="bold" text-anchor="end" fill="#000000" textLength="39.0" lengthAdjust="spacingAndGlyphs">0.6289</text>
<text x="513.90" y="648.30" font-size="12" font-weight="bold" text-anchor="end" fill="#000000" textLength="38.6" lengthAdjust="spacingAndGlyphs">0.8772</text>
<text x="29.40" y="665.90" font-size="12" font-weight="bold" text-anchor="start" fill="#000000" textLength="50.2" lengthAdjust="spacingAndGlyphs">Log IC50</text>
<text x="103.00" y="665.90" font-size="12" font-weight="bold" text-anchor="start" fill="#000000" textLength="65.6" lengthAdjust="spacingAndGlyphs">Log kd CD4</text>
<text x="247.50" y="665.90" font-size="12" font-weight="bold" text-anchor="end" fill="#000000" textLength="44.4" lengthAdjust="spacingAndGlyphs">-0.4111</text>
<text x="296.80" y="665.90" font-size="12" font-weight="bold" text-anchor="end" fill="#000000">9</text>
<text x="371.00" y="665.90" font-size="12" font-weight="bold" text-anchor="end" fill="#000000" textLength="44.4" lengthAdjust="spacingAndGlyphs">-0.8446</text>
<text x="444.70" y="665.90" font-size="12" font-weight="bold" text-anchor="end" fill="#000000" textLength="39.0" lengthAdjust="spacingAndGlyphs">0.3481</text>
<text x="513.90" y="665.90" font-size="12" font-weight="bold" text-anchor="end" fill="#000000" textLength="38.6" lengthAdjust="spacingAndGlyphs">0.2717</text>
<rect x="525.0" y="565.5" width="173.5" height="106.0" fill="#f9f9f9"/>
<line x1="525.0" y1="565.5" x2="698.5" y2="565.5" stroke="#a2a298" stroke-width="1.3"/>
<line x1="698.5" y1="565.5" x2="698.5" y2="671.5" stroke="#a8a89e" stroke-width="1.3"/>
<line x1="525.0" y1="671.5" x2="699.1" y2="671.5" stroke="#a8a89e" stroke-width="1.3"/>
<line x1="542.5" y1="567.5" x2="542.5" y2="670.5" stroke="#babab2" stroke-width="1" stroke-dasharray="2.3,1.5"/>
<text x="543.20" y="560.20" font-size="12" font-weight="bold" text-anchor="middle" fill="#000000" textLength="10.6" lengthAdjust="spacingAndGlyphs">.8</text>
<line x1="559.5" y1="567.5" x2="559.5" y2="670.5" stroke="#babab2" stroke-width="1" stroke-dasharray="2.3,1.5"/>
<text x="561.00" y="560.20" font-size="12" font-weight="bold" text-anchor="middle" fill="#000000" textLength="10.6" lengthAdjust="spacingAndGlyphs">.6</text>
<line x1="577.5" y1="567.5" x2="577.5" y2="670.5" stroke="#babab2" stroke-width="1" stroke-dasharray="2.3,1.5"/>
<text x="577.60" y="560.20" font-size="12" font-weight="bold" text-anchor="middle" fill="#000000" textLength="10.6" lengthAdjust="spacingAndGlyphs">.4</text>
<line x1="594.5" y1="567.5" x2="594.5" y2="670.5" stroke="#babab2" stroke-width="1" stroke-dasharray="2.3,1.5"/>
<text x="595.30" y="560.20" font-size="12" font-weight="bold" text-anchor="middle" fill="#000000" textLength="10.6" lengthAdjust="spacingAndGlyphs">.2</text>
<line x1="629.5" y1="567.5" x2="629.5" y2="670.5" stroke="#babab2" stroke-width="1" stroke-dasharray="2.3,1.5"/>
<text x="627.70" y="560.20" font-size="12" font-weight="bold" text-anchor="middle" fill="#000000" textLength="10.6" lengthAdjust="spacingAndGlyphs">.2</text>
<line x1="646.5" y1="567.5" x2="646.5" y2="670.5" stroke="#babab2" stroke-width="1" stroke-dasharray="2.3,1.5"/>
<text x="645.40" y="560.20" font-size="12" font-weight="bold" text-anchor="middle" fill="#000000" textLength="10.6" lengthAdjust="spacingAndGlyphs">.4</text>
<line x1="664.5" y1="567.5" x2="664.5" y2="670.5" stroke="#babab2" stroke-width="1" stroke-dasharray="2.3,1.5"/>
<text x="662.60" y="560.20" font-size="12" font-weight="bold" text-anchor="middle" fill="#000000" textLength="10.6" lengthAdjust="spacingAndGlyphs">.6</text>
<line x1="680.5" y1="567.5" x2="680.5" y2="670.5" stroke="#babab2" stroke-width="1" stroke-dasharray="2.3,1.5"/>
<text x="680.30" y="560.20" font-size="12" font-weight="bold" text-anchor="middle" fill="#000000" textLength="10.6" lengthAdjust="spacingAndGlyphs">.8</text>
<text x="611.50" y="560.20" font-size="12" font-weight="bold" text-anchor="middle" fill="#000000">0</text>
<rect x="579.5" y="567.5" width="32.0" height="14" fill="#c8c8c0" stroke="#86867c" stroke-width="1"/>
<rect x="611.5" y="584.5" width="73.0" height="14" fill="#c8c8c0" stroke="#86867c" stroke-width="1"/>
<rect x="611.5" y="602.5" width="16.0" height="14" fill="#c8c8c0" stroke="#86867c" stroke-width="1"/>
<rect x="581.5" y="620.5" width="30.0" height="14" fill="#c8c8c0" stroke="#86867c" stroke-width="1"/>
<rect x="606.5" y="638.5" width="5.0" height="14" fill="#c8c8c0" stroke="#86867c" stroke-width="1"/>
<rect x="576.5" y="655.5" width="35.0" height="14" fill="#c8c8c0" stroke="#86867c" stroke-width="1"/>
<line x1="611.5" y1="565.5" x2="611.5" y2="671.5" stroke="#828276" stroke-width="1"/>
</svg></body></html>
